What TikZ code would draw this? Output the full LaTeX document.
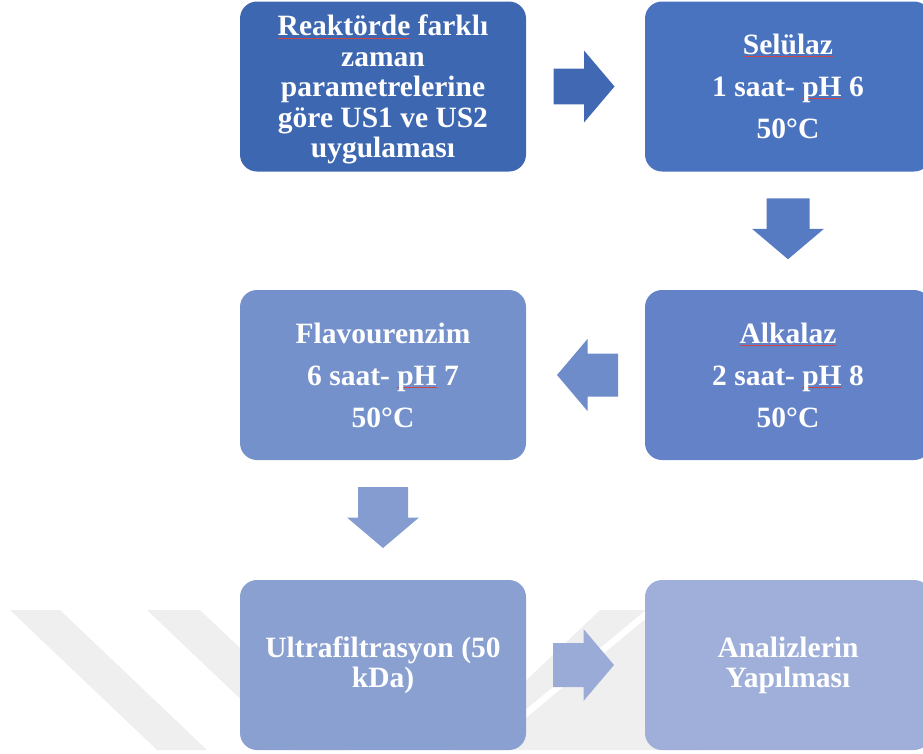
\documentclass[tikz,border=0pt]{standalone}
\usepackage{fontspec}
\setmainfont{Liberation Serif}
\usetikzlibrary{calc}
\definecolor{c1}{RGB}{62,103,177}
\definecolor{c2}{RGB}{74,115,191}
\definecolor{c3}{RGB}{99,130,199}
\definecolor{c4}{RGB}{117,145,203}
\definecolor{c5}{RGB}{138,160,209}
\definecolor{c6}{RGB}{160,175,217}
\definecolor{ar1}{RGB}{64,104,179}
\definecolor{ar2}{RGB}{87,123,195}
\definecolor{ar3}{RGB}{110,139,202}
\definecolor{ar4}{RGB}{132,156,208}
\definecolor{ar5}{RGB}{154,171,215}
\definecolor{wm}{RGB}{239,239,239}
\definecolor{sq}{RGB}{205,70,70}
\newsavebox\sqbox
\newcommand\sqw[1]{\sbox\sqbox{#1}\rlap{\textcolor{sq}{\rule[-2.5pt]{\wd\sqbox}{0.8pt}}}\usebox\sqbox}
\begin{document}
\begin{tikzpicture}[x=1pt,y=-1pt,
  box/.style={rounded corners=17pt, minimum width=286pt, minimum height=170pt,
    inner sep=0pt, text=white, align=center,
    font=\bfseries\fontsize{29.5}{42}\selectfont},
  pics/barrow/.style={code={\fill[pic actions] (-30.5,-#1) -- (0,-#1) -- (0,-36) -- (30.5,0) -- (0,36) -- (0,#1) -- (-30.5,#1) -- cycle;}}]
\useasboundingbox (0,0) rectangle (923,753);
% watermark
\fill[wm] (10,610) -- (60,610) -- (207,750) -- (157,750) -- cycle;
\fill[wm] (147,610) -- (200,610) -- (347,750) -- (294,750) -- cycle;
\fill[wm] (600,610) -- (700,610) -- (700,750) -- (453,750) -- cycle;
\fill[white] (646,610) -- (656,610) -- (487,750) -- (477,750) -- cycle;
% boxes
\node[box, fill=c1, text depth=0pt, font=\bfseries\fontsize{29.5}{30.5}\selectfont] (b1) at (383,86.5)
  {\sqw{Reaktörde} farklı\\zaman\\parametrelerine\\göre US1 ve US2\\uygulaması};
\node[box, fill=c2] (b2) at (788,86.5) {\sqw{Selülaz}\\1 saat- \sqw{pH} 6\\50°C};
\node[box, fill=c3] (b3) at (788,375) {\sqw{Alkalaz}\\2 saat- \sqw{pH} 8\\50°C};
\node[box, fill=c4] (b4) at (383,375) {Flavourenzim\\6 saat- \sqw{pH} 7\\50°C};
\node[box, fill=c5, font=\bfseries\fontsize{29.5}{30}\selectfont] (b5) at (383,665) {Ultrafiltrasyon (50\\kDa)};
\node[box, fill=c6, font=\bfseries\fontsize{29.5}{30}\selectfont] (b6) at (788,665) {Analizlerin\\Yapılması};
% arrows
\pic[fill=ar1] at ($(b1.east)!0.5!(b2.west)+(-1.5,0)$) {barrow=17.8};
\pic[fill=ar2, rotate=-90] at ($(b2.south)!0.5!(b3.north)+(0,-2)$) {barrow=21.5};
\pic[fill=ar3, rotate=180] at ($(b3.west)!0.5!(b4.east)+(2,0)$) {barrow=21.5};
\pic[fill=ar4, rotate=-90] at ($(b4.south)!0.5!(b5.north)+(0,-2.5)$) {barrow=25};
\pic[fill=ar5] at ($(b5.east)!0.5!(b6.west)+(-2,0)$) {barrow=22};
\end{tikzpicture}
\end{document}
